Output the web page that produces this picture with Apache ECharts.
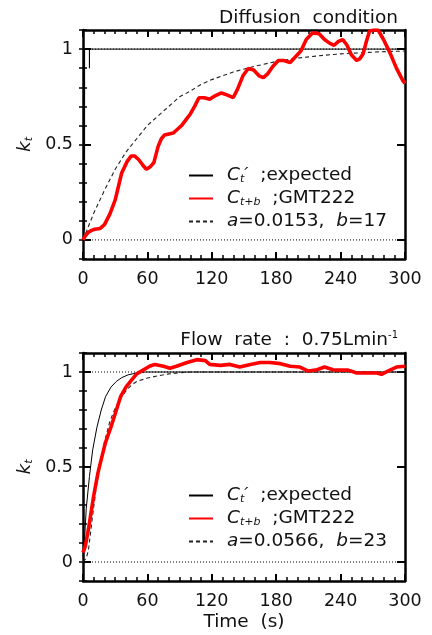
<!DOCTYPE html>
<html><head><meta charset="utf-8">
<script src="https://cdn.jsdelivr.net/npm/echarts@6/dist/echarts.min.js"></script>
<style>html,body{margin:0;padding:0;background:#fff}#c{width:432px;height:635px}</style>
</head><body><div id="c"></div>
<script>
// ---- data ----
const xTicks = [0, 60, 120, 180, 240, 300];
const yMajorTicks = [0, 0.5, 1];
const yMinorTicks = [-0.1, 0, 0.1, 0.2, 0.3, 0.4, 0.5, 0.6, 0.7, 0.8, 0.9, 1, 1.1];
const titleTop = 'Diffusion  condition';
const titleBottomMain = 'Flow  rate  :  0.75Lmin';
const titleBottomSup = '-1';
const fitTop = ['0.0153', '17'];
const fitBottom = ['0.0566', '23'];
const refZero = [[0, 0], [292, 0]];
const refOne = [[0, 1], [292, 1]];

const expectedTop = [[1.5, 0.05], [1.5, 1], [6, 1], [6, 0.9], [6, 1], [300, 1]];
const measuredTop = [[0,0.0],[2,0.02],[5,0.04],[8,0.05],[11,0.056],[16,0.06],[20,0.08],[25,0.135],[30,0.21],[33,0.28],[36,0.35],[41,0.41],[45,0.44],[48,0.44],[52,0.42],[56,0.39],[59,0.37],[63,0.385],[66,0.405],[70,0.49],[73,0.53],[76,0.55],[80,0.555],[84,0.56],[88,0.58],[92,0.60],[96,0.63],[100,0.66],[104,0.70],[108,0.745],[113,0.745],[118,0.737],[123,0.755],[129,0.77],[134,0.76],[140,0.746],[144,0.79],[149,0.86],[154,0.898],[159,0.89],[164,0.86],[168,0.85],[172,0.87],[177,0.91],[182,0.94],[187,0.94],[193,0.93],[198,0.96],[203,0.99],[208,1.05],[214,1.085],[220,1.08],[225,1.05],[230,1.03],[234,1.02],[238,1.04],[242,1.05],[246,1.02],[250,0.97],[255,0.94],[258,0.95],[261,0.975],[264,1.04],[267,1.095],[271,1.1],[275,1.1],[280,1.05],[286,0.98],[292,0.9],[298,0.835],[300,0.82]];
const modelTop = [[0,0],[5,0.07],[10,0.14],[15,0.2],[20,0.26],[30,0.37],[40,0.46],[50,0.53],[60,0.6],[70,0.65],[80,0.7],[90,0.75],[100,0.78],[110,0.815],[120,0.84],[140,0.88],[160,0.91],[180,0.935],[200,0.953],[220,0.965],[240,0.975],[270,0.984],[300,0.99]];

const expectedBottom = [[0,0.03],[1,0.07],[3,0.28],[6,0.45],[9,0.59],[13,0.71],[17,0.8],[21,0.87],[26,0.92],[31,0.95],[36,0.97],[42,0.985],[50,0.995],[58,1],[300,1]];
const measuredBottom = [[0,0.05],[2,0.08],[5,0.17],[10,0.35],[14,0.47],[17,0.54],[21,0.63],[26,0.71],[30,0.78],[35,0.87],[40,0.92],[45,0.956],[50,0.99],[56,1.01],[62,1.03],[67,1.04],[75,1.03],[81,1.02],[87,1.03],[97,1.05],[106,1.065],[114,1.06],[118,1.04],[128,1.035],[137,1.04],[146,1.026],[156,1.04],[165,1.05],[174,1.05],[184,1.044],[193,1.03],[202,1.026],[210,1.005],[218,1.012],[225,1.026],[233,1.012],[239,1.01],[247,1.01],[255,0.995],[264,0.995],[274,0.995],[278,0.988],[284,1.005],[292,1.026],[300,1.03]];
const modelBottom = [[0,0],[3,0.02],[5,0.06],[8,0.2],[12,0.38],[16,0.52],[20,0.63],[25,0.74],[30,0.81],[35,0.86],[40,0.9],[45,0.93],[50,0.95],[60,0.968],[70,0.98],[80,0.99],[90,0.996],[100,1.0],[300,1.0]];

// ---- chart ----
const FF = 'DejaVu Sans';
const FS = 17.5;   // tick labels
const FT = 18.5;   // titles / legend
const chart = echarts.init(document.getElementById('c'));
const grids = [
  { left: 83, width: 322, top: 30, height: 229 },
  { left: 83, width: 322, top: 353, height: 228 }
];
const axisLine = { show: true, onZero: false, lineStyle: { color: '#000', width: 2.5 } };
const xAxes = [], yAxes = [];
grids.forEach((g, gi) => {
  ['bottom', 'top'].forEach(pos => {
    xAxes.push({
      type: 'value', gridIndex: gi, position: pos, min: xTicks[0], max: xTicks[xTicks.length - 1], interval: xTicks[1] - xTicks[0],
      axisLine,
      axisTick: { show: true, inside: true, length: 7, lineStyle: { color: '#000', width: 2 } },
      minorTick: { show: true, splitNumber: 6, length: 4, lineStyle: { color: '#000', width: 1.5 } },
      axisLabel: { show: pos === 'bottom', margin: 11, color: '#111', fontFamily: FF, fontSize: FS },
      splitLine: { show: false },
      name: (gi === 1 && pos === 'bottom') ? 'Time  (s)' : '',
      nameLocation: 'middle', nameGap: 32,
      nameTextStyle: { fontFamily: FF, fontSize: FT, color: '#111' }
    });
  });
  ['left', 'right'].forEach(pos => {
    yAxes.push({
      type: 'value', gridIndex: gi, position: pos, min: -0.1, max: 1.1,
      axisLine,
      axisTick: { show: true, inside: true, length: 8, customValues: yMajorTicks, lineStyle: { color: '#000', width: 2 } },
      axisLabel: { show: pos === 'left', customValues: yMajorTicks, margin: 10, color: '#111', fontFamily: FF, fontSize: FS },
      splitLine: { show: false },
      name: pos === 'left' ? '{i|k}{s|t}' : '',
      nameLocation: 'middle', nameRotate: 90, nameGap: 44,
      nameTextStyle: { fontFamily: FF, fontSize: FT, color: '#111',
        rich: { i: { fontStyle: 'italic', fontFamily: FF, fontSize: FT, lineHeight: 18 },
                s: { fontStyle: 'italic', fontFamily: FF, fontSize: 11, lineHeight: 14, padding: [8, 0, 0, 0] } } }
    });
    yAxes.push({
      type: 'value', gridIndex: gi, position: pos, min: -0.1, max: 1.1,
      axisLine: { show: false },
      axisTick: { show: true, inside: true, length: 4, customValues: yMinorTicks, lineStyle: { color: '#000', width: 1.5 } },
      axisLabel: { show: false },
      splitLine: { show: false }
    });
  });
});

function lineSeries(name, gi, data, style, z) {
  return { name, type: 'line', xAxisIndex: gi * 2, yAxisIndex: gi * 4, data, showSymbol: false, symbol: 'none',
    clip: true, lineStyle: style, itemStyle: { color: style.color }, z, animation: false, silent: true };
}
const series = [];
const sets = [
  { exp: expectedTop, meas: measuredTop, model: modelTop, k: 'T' },
  { exp: expectedBottom, meas: measuredBottom, model: modelBottom, k: 'B' }
];
sets.forEach((s, gi) => {
  series.push(lineSeries('zero' + s.k, gi, refZero, { color: '#000', width: 1, type: [1, 2] }, 1));
  series.push(lineSeries('one' + s.k, gi, refOne, { color: '#000', width: 1, type: [1, 2] }, 1));
  series.push(lineSeries('exp' + s.k, gi, s.exp, { color: '#000', width: 1, type: 'solid' }, 3));
  series.push(lineSeries('fit' + s.k, gi, s.model, { color: '#222', width: 1.1, type: [4, 3] }, 4));
  series.push(lineSeries('gmt' + s.k, gi, s.meas, { color: '#ff0000', width: 3.6, type: 'solid' }, 5));
});

const rich = {
  g: { fontFamily: FF, fontSize: FT, lineHeight: 18, width: 9 },
  i: { fontStyle: 'italic', fontFamily: FF, fontSize: FT, lineHeight: 18 },
  n: { fontFamily: FF, fontSize: FT, lineHeight: 18 },
  s: { fontStyle: 'italic', fontFamily: FF, fontSize: 11, lineHeight: 13, padding: [8, 0, 0, 0] }
};
function legendFmt(name) {
  const k = name.slice(3);
  const fit = k === 'T' ? fitTop : fitBottom;
  if (name.startsWith('exp')) return '{g| }{i|C}{s|t}{i|\u2032}{n|  ;expected}';
  if (name.startsWith('gmt')) return '{g| }{i|C}{s|t+b}{n|  ;GMT222}';
  return '{g| }{i|a}{n|=' + fit[0] + ',  }{i|b}{n|=' + fit[1] + '}';
}
const legends = sets.map((s, gi) => ({
  data: ['exp' + s.k, 'gmt' + s.k, 'fit' + s.k],
  orient: 'vertical', left: 183, top: gi === 0 ? 161 : 481,
  itemWidth: 24, itemHeight: 14, itemGap: 4,
  selectedMode: false,
  itemStyle: { opacity: 0 },
  formatter: legendFmt,
  textStyle: { color: '#111', fontFamily: FF, fontSize: FT, rich }
}));

chart.setOption({
  animation: false,
  backgroundColor: '#fff',
  title: [
    { text: titleTop, right: 29, top: 4, textStyle: { fontFamily: FF, fontSize: FT, fontWeight: 'normal', color: '#111' } },
    { text: '{n|' + titleBottomMain + '}{p|' + titleBottomSup + '}', right: 29, top: 325,
      textStyle: { fontFamily: FF, fontSize: FT, fontWeight: 'normal', color: '#111',
        rich: { n: { fontFamily: FF, fontSize: FT, color: '#111', lineHeight: 20 },
                p: { fontFamily: FF, fontSize: 10, color: '#111', lineHeight: 12, padding: [0, 0, 10, 0] } } } }
  ],
  grid: grids,
  xAxis: xAxes,
  yAxis: yAxes,
  legend: legends,
  series
});
</script></body></html>
